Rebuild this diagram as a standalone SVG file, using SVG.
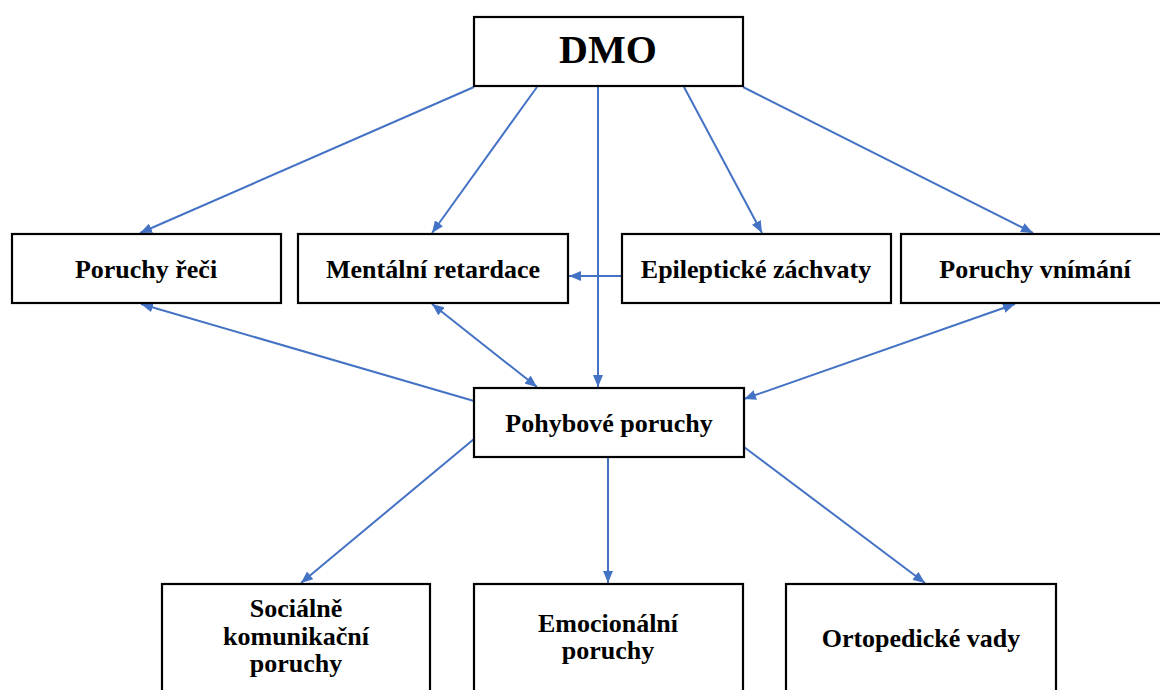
<svg xmlns="http://www.w3.org/2000/svg" width="1160" height="690" viewBox="0 0 1160 690">
<defs>
<style>
.box{fill:#fff;stroke:#000;stroke-width:2.2}
.t{font-family:"Liberation Serif","Times New Roman",serif;font-weight:bold;font-size:26px;fill:#000;text-anchor:middle}
.c{stroke:#4472C4;stroke-width:2;fill:none}
</style>
<marker id="ah" viewBox="0 0 12 10" refX="12" refY="5" markerWidth="12" markerHeight="10" markerUnits="userSpaceOnUse" orient="auto-start-reverse">
<path d="M0,0 L12,5 L0,10 Z" fill="#4472C4"/>
</marker>
</defs>
<rect width="1160" height="690" fill="#fff"/>
<g id="connectors">
<line class="c" x1="474" y1="87" x2="140" y2="233" marker-end="url(#ah)"/>
<line class="c" x1="537" y1="87" x2="432" y2="233" marker-end="url(#ah)"/>
<line class="c" x1="598" y1="87" x2="598" y2="387" marker-end="url(#ah)"/>
<line class="c" x1="684" y1="87" x2="762" y2="233" marker-end="url(#ah)"/>
<line class="c" x1="743" y1="87" x2="1033" y2="233" marker-end="url(#ah)"/>
<line class="c" x1="621" y1="276" x2="569" y2="276" marker-end="url(#ah)"/>
<line class="c" x1="474" y1="401" x2="141" y2="304" marker-end="url(#ah)"/>
<line class="c" x1="432" y1="304" x2="537" y2="387" marker-start="url(#ah)" marker-end="url(#ah)"/>
<line class="c" x1="1015" y1="304" x2="744" y2="399" marker-start="url(#ah)" marker-end="url(#ah)"/>
<line class="c" x1="474" y1="439" x2="301" y2="583" marker-end="url(#ah)"/>
<line class="c" x1="608" y1="458" x2="608" y2="583" marker-end="url(#ah)"/>
<line class="c" x1="744" y1="447" x2="925" y2="583" marker-end="url(#ah)"/>
</g>
<g id="dmo">
<rect class="box" x="474" y="17" width="269" height="69"/>
<text class="t" x="608" y="63" style="font-size:40px">DMO</text>
</g>
<g id="poruchy-reci">
<rect class="box" x="12" y="234" width="269" height="69"/>
<text class="t" x="146" y="278">Poruchy řeči</text>
</g>
<g id="mentalni-retardace">
<rect class="box" x="298" y="234" width="270" height="69"/>
<text class="t" x="433" y="278">Mentální retardace</text>
</g>
<g id="epilepticke-zachvaty">
<rect class="box" x="622" y="234" width="269" height="69"/>
<text class="t" x="756" y="278">Epileptické záchvaty</text>
</g>
<g id="poruchy-vnimani">
<rect class="box" x="901" y="234" width="270" height="69"/>
<text class="t" x="1035" y="278">Poruchy vnímání</text>
</g>
<g id="pohybove-poruchy">
<rect class="box" x="474" y="388" width="270" height="69"/>
<text class="t" x="609" y="432">Pohybové poruchy</text>
</g>
<g id="socialne-komunikacni-poruchy">
<rect class="box" x="162" y="584" width="268" height="120"/>
<text class="t" x="296" y="617">Sociálně</text>
<text class="t" x="296" y="645">komunikační</text>
<text class="t" x="296" y="672">poruchy</text>
</g>
<g id="emocionalni-poruchy">
<rect class="box" x="474" y="584" width="269" height="120"/>
<text class="t" x="608" y="632">Emocionální</text>
<text class="t" x="608" y="659">poruchy</text>
</g>
<g id="ortopedicke-vady">
<rect class="box" x="786" y="584" width="270" height="120"/>
<text class="t" x="921" y="647">Ortopedické vady</text>
</g>
</svg>
